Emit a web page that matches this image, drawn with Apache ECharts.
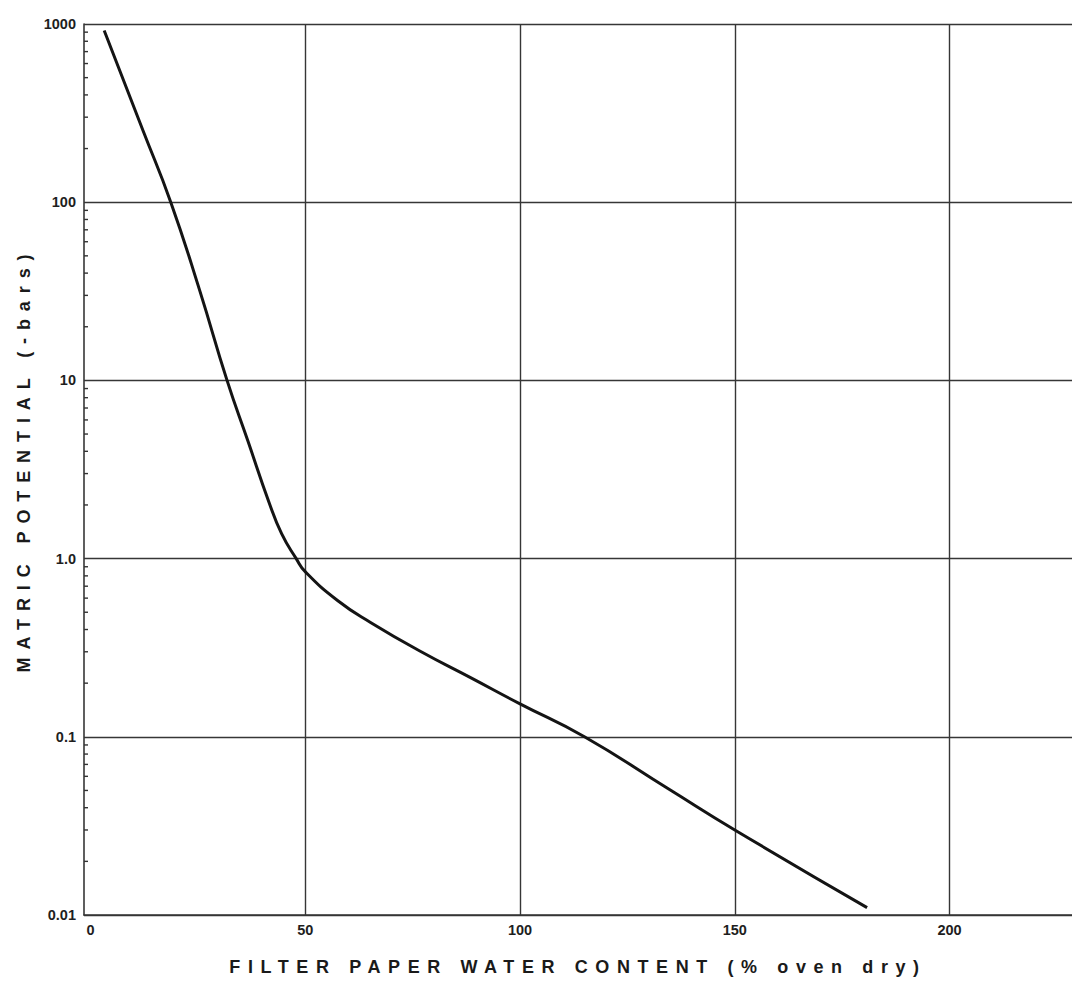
<!DOCTYPE html>
<html>
<head>
<meta charset="utf-8">
<script src="https://cdn.jsdelivr.net/npm/echarts@6/dist/echarts.min.js"></script>
<style>
html,body{margin:0;padding:0;background:#fff;}
#chart{width:1072px;height:986px;}
</style>
</head>
<body>
<div id="chart"></div>
<script>
// ---- data ----
const waterContent    = [3.2, 12.3, 18.7, 25.5, 31.8, 36.7, 41.6, 44.5, 47.9, 50, 57.6, 65.3, 77, 88.6, 100, 115, 134.8, 150, 180.8];
const matricPotential = [920, 250, 100, 31.6, 10, 4.54, 2.06, 1.38, 1.0, 0.845, 0.58, 0.437, 0.30, 0.214, 0.153, 0.1, 0.0506, 0.030, 0.011];

const xTickValues = [0, 50, 100, 150, 200];
const xGridValues = [50, 100, 150, 200];
const yTickValues = [0.01, 0.1, 1, 10, 100, 1000];
const yTickLabels = ['0.01', '0.1', '1.0', '10', '100', '1000'];
const minorMultipliers = [2, 3, 4, 5, 6, 7, 8, 9];

const xTitle = 'FILTER PAPER WATER CONTENT (% oven dry)';
const yTitle = 'MATRIC POTENTIAL (-bars)';

const X_MIN = -1.5, X_MAX = 228.5;

const minorTickValues = [];
yTickValues.slice(0, -1).forEach(d => minorMultipliers.forEach(m => minorTickValues.push(+(d * m).toPrecision(3))));

const FONT = '"Liberation Sans", Arial, Helvetica, sans-serif';
const GRID_COLOR = '#363636';

const chart = echarts.init(document.getElementById('chart'), null, {renderer: 'svg'});
chart.setOption({
  animation: false,
  backgroundColor: '#ffffff',
  grid: {left: 84, right: 0, top: 24, bottom: 71, containLabel: false},
  xAxis: {
    type: 'value',
    min: X_MIN,
    max: X_MAX,
    name: xTitle,
    nameLocation: 'middle',
    nameGap: 43,
    nameTextStyle: {fontFamily: FONT, fontWeight: 'bold', fontSize: 18, color: '#1a1a1a'},
    axisLine: {show: true, onZero: false, lineStyle: {color: GRID_COLOR, width: 1.6}},
    axisTick: {show: false, customValues: xGridValues},
    axisLabel: {customValues: xTickValues, margin: 7, fontFamily: FONT, fontWeight: 'bold', fontSize: 14.5, color: '#1e1e1e'},
    splitLine: {show: true, lineStyle: {color: GRID_COLOR, width: 1.4}}
  },
  yAxis: {
    type: 'log',
    logBase: 10,
    min: 0.01,
    max: 1000,
    splitNumber: 5,
    name: yTitle,
    nameLocation: 'middle',
    nameGap: 46,
    nameRotate: 90,
    nameTextStyle: {fontFamily: FONT, fontWeight: 'bold', fontSize: 18, color: '#1a1a1a', padding: [0, 0, 0, 20]},
    axisLine: {show: true, onZero: false, lineStyle: {color: GRID_COLOR, width: 1.6}},
    axisTick: {show: false},
    axisLabel: {
      margin: 8, fontFamily: FONT, fontWeight: 'bold', fontSize: 14.5, color: '#1e1e1e',
      formatter: v => {
        const i = yTickValues.findIndex(t => Math.abs(Math.log10(t) - Math.log10(v)) < 1e-6);
        return i >= 0 ? yTickLabels[i] : '';
      }
    },
    splitLine: {show: true, lineStyle: {color: GRID_COLOR, width: 1.4}}
  },
  series: [
    {
      type: 'custom',
      silent: true,
      clip: false,
      data: minorTickValues.map(v => [X_MIN, v]),
      renderItem: (params, api) => {
        const p = api.coord([api.value(0), api.value(1)]);
        return {type: 'line', shape: {x1: p[0], y1: p[1], x2: p[0] + 4, y2: p[1]},
                style: {stroke: '#333', lineWidth: 1.4}};
      }
    },
    {
      type: 'line',
      data: waterContent.map((x, i) => [x, matricPotential[i]]),
      smooth: 0.5,
      showSymbol: false,
      symbol: 'none',
      lineStyle: {color: '#141414', width: 3},
      z: 5
    }
  ]
});

function spaceTitles() {
  document.querySelectorAll('#chart text').forEach(t => {
    const s = t.textContent;
    if (s === xTitle) t.style.letterSpacing = '7.6px';
    if (s === yTitle) t.style.letterSpacing = '7.9px';
  });
}
chart.on('finished', spaceTitles);
spaceTitles();
</script>
</body>
</html>
